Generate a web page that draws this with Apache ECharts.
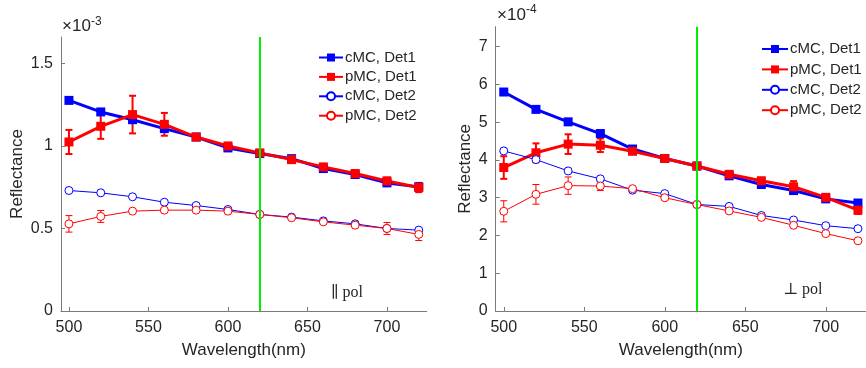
<!DOCTYPE html>
<html>
<head>
<meta charset="utf-8">
<script src="https://cdn.jsdelivr.net/npm/echarts@6/dist/echarts.min.js"></script>
<style>
html,body{margin:0;padding:0;background:#fff;}
#chart{width:866px;height:368px;}
</style>
</head>
<body>
<div id="chart"></div>
<script>
// ---------- DATA ----------
const wavelengths = [500, 520, 540, 560, 580, 600, 620, 640, 660, 680, 700, 720];
const seriesNames = ['cMC, Det1', 'pMC, Det1', 'cMC, Det2', 'pMC, Det2'];
const cutoffWavelength = 620;
const xTicks = [500, 550, 600, 650, 700];

// Left panel (parallel pol), units of 1e-3
const parYTicks = [0, 0.5, 1, 1.5];
const par_cMC_Det1 = [1.276, 1.206, 1.159, 1.105, 1.054, 0.988, 0.954, 0.923, 0.863, 0.827, 0.776, 0.752];
const par_pMC_Det1 = [1.024, 1.119, 1.190, 1.131, 1.054, 1.000, 0.958, 0.917, 0.873, 0.833, 0.788, 0.748];
const par_pMC_Det1_err = [0.073, 0.076, 0.114, 0.069, 0.012, 0.010, 0.008, 0.010, 0.010, 0.010, 0.020, 0.028];
const par_cMC_Det2 = [0.730, 0.716, 0.692, 0.659, 0.639, 0.615, 0.585, 0.569, 0.546, 0.528, 0.500, 0.490];
const par_pMC_Det2 = [0.528, 0.573, 0.605, 0.611, 0.611, 0.605, 0.585, 0.565, 0.540, 0.520, 0.500, 0.464];
const par_pMC_Det2_err = [0.050, 0.036, 0.015, 0.010, 0.008, 0.008, 0.006, 0.008, 0.008, 0.008, 0.036, 0.037];

// Right panel (perpendicular pol), units of 1e-4
const perYTicks = [0, 1, 2, 3, 4, 5, 6, 7];
const per_cMC_Det1 = [5.80, 5.34, 5.01, 4.70, 4.29, 4.04, 3.84, 3.58, 3.35, 3.19, 2.97, 2.86];
const per_pMC_Det1 = [3.80, 4.19, 4.42, 4.39, 4.23, 4.04, 3.84, 3.62, 3.45, 3.29, 3.01, 2.67];
const per_pMC_Det1_err = [0.30, 0.25, 0.26, 0.18, 0.07, 0.05, 0.05, 0.05, 0.07, 0.15, 0.08, 0.10];
const per_cMC_Det2 = [4.24, 4.01, 3.71, 3.50, 3.20, 3.11, 2.82, 2.77, 2.53, 2.41, 2.26, 2.18];
const per_pMC_Det2 = [2.64, 3.09, 3.32, 3.31, 3.24, 3.00, 2.82, 2.65, 2.48, 2.27, 2.05, 1.86];
const per_pMC_Det2_err = [0.28, 0.26, 0.23, 0.12, 0.05, 0.04, 0.04, 0.04, 0.04, 0.04, 0.04, 0.04];

// ---------- CHART ----------
const BLUE = '#0000ff', RED = '#ff0000', GREEN = '#00ee00';
const AXIS = '#7a7a7a', TXT = '#262626';
const FONT = '"Liberation Sans", Arial, Helvetica, sans-serif';

function pairs(vals) { return wavelengths.map((w, i) => [w, vals[i]]); }
function errPairs(vals, errs) { return wavelengths.map((w, i) => [w, vals[i] - errs[i], vals[i] + errs[i]]); }

function errRender(lw, cap) {
  return function (params, api) {
    const x = api.value(0), lo = api.value(1), hi = api.value(2);
    const p1 = api.coord([x, lo]), p2 = api.coord([x, hi]);
    const st = { stroke: RED, lineWidth: lw };
    return {
      type: 'group', children: [
        { type: 'line', shape: { x1: p1[0], y1: p1[1], x2: p2[0], y2: p2[1] }, style: st },
        { type: 'line', shape: { x1: p1[0] - cap, y1: p1[1], x2: p1[0] + cap, y2: p1[1] }, style: st },
        { type: 'line', shape: { x1: p2[0] - cap, y1: p2[1], x2: p2[0] + cap, y2: p2[1] }, style: st }
      ]
    };
  };
}

function panelSeries(idx, c1, p1, p1e, c2, p2, p2e) {
  const base = { type: 'line', xAxisIndex: idx, yAxisIndex: idx, animation: false };
  return [
    Object.assign({}, base, {
      name: seriesNames[0], data: pairs(c1), symbol: 'rect', symbolSize: 9,
      lineStyle: { color: BLUE, width: 3 }, itemStyle: { color: BLUE }
    }),
    Object.assign({}, base, {
      name: seriesNames[1], data: pairs(p1), symbol: 'rect', symbolSize: 9,
      lineStyle: { color: RED, width: 3 }, itemStyle: { color: RED }
    }),
    {
      type: 'custom', xAxisIndex: idx, yAxisIndex: idx, animation: false, silent: true,
      renderItem: errRender(2, 3.5), data: errPairs(p1, p1e), encode: { x: 0, y: [1, 2] }
    },
    Object.assign({}, base, {
      name: seriesNames[2], data: pairs(c2), symbol: 'circle', symbolSize: 8,
      lineStyle: { color: BLUE, width: 1 }, itemStyle: { color: '#fff', borderColor: BLUE, borderWidth: 1 }
    }),
    Object.assign({}, base, {
      name: seriesNames[3], data: pairs(p2), symbol: 'circle', symbolSize: 8,
      lineStyle: { color: RED, width: 1 }, itemStyle: { color: '#fff', borderColor: RED, borderWidth: 1 }
    }),
    {
      type: 'custom', xAxisIndex: idx, yAxisIndex: idx, animation: false, silent: true,
      renderItem: errRender(1, 3.5), data: errPairs(p2, p2e), encode: { x: 0, y: [1, 2] }
    },
    Object.assign({}, base, {
      name: 'cutoff', data: [], symbol: 'none', z: 5,
      markLine: {
        silent: true, symbol: 'none', animation: false,
        label: { show: false },
        lineStyle: { color: GREEN, width: 2, type: 'solid' },
        data: [{ xAxis: cutoffWavelength }]
      }
    })
  ];
}

function xAxisCfg(idx) {
  return {
    type: 'value', gridIndex: idx, min: 495, max: 725,
    name: 'Wavelength(nm)', nameLocation: 'middle', nameGap: 31,
    nameTextStyle: { color: TXT, fontSize: 17, fontFamily: FONT },
    axisLine: { lineStyle: { color: AXIS, width: 1 } },
    axisTick: { inside: true, length: 4, lineStyle: { color: AXIS }, customValues: xTicks },
    axisLabel: { color: TXT, fontSize: 16, fontFamily: FONT, margin: 9, customValues: xTicks },
    splitLine: { show: false }
  };
}
function yAxisCfg(idx, max, ticks, gap) {
  return {
    type: 'value', gridIndex: idx, min: 0, max: max,
    name: 'Reflectance', nameLocation: 'middle', nameGap: gap,
    nameTextStyle: { color: TXT, fontSize: 17, fontFamily: FONT },
    axisLine: { show: true, lineStyle: { color: AXIS, width: 1 } },
    axisTick: { show: true, inside: true, length: 4, lineStyle: { color: AXIS }, customValues: ticks },
    axisLabel: { color: TXT, fontSize: 16, fontFamily: FONT, margin: 8, customValues: ticks },
    splitLine: { show: false }
  };
}

function legendCfg(left, top, gap, iw) {
  return {
    orient: 'vertical', left: left, top: top, itemWidth: iw, itemHeight: 10, itemGap: gap,
    padding: 0,
    data: seriesNames, selectedMode: false,
    textStyle: { color: TXT, fontSize: 15, lineHeight: 14, fontFamily: FONT, padding: [0, 0, 0, -3] }
  };
}

const option = {
  backgroundColor: '#fff',
  animation: false,
  grid: [
    { left: 61, top: 37, width: 365.7, height: 274 },
    { left: 495.7, top: 26.7, width: 377.3, height: 284.3 }
  ],
  xAxis: [xAxisCfg(0), xAxisCfg(1)],
  yAxis: [yAxisCfg(0, 1.66, parYTicks, 35), yAxisCfg(1, 7.53, perYTicks, 22)],
  legend: [legendCfg(318, 50, 4.4, 24), legendCfg(761, 41.5, 5.4, 26)],
  series: [].concat(
    panelSeries(0, par_cMC_Det1, par_pMC_Det1, par_pMC_Det1_err, par_cMC_Det2, par_pMC_Det2, par_pMC_Det2_err),
    panelSeries(1, per_cMC_Det1, per_pMC_Det1, per_pMC_Det1_err, per_cMC_Det2, per_pMC_Det2, per_pMC_Det2_err)
  ),
  graphic: [
    { type: 'text', x: 62, y: 35, style: { text: '×10', font: '17px ' + FONT, fill: TXT, textVerticalAlign: 'bottom' } },
    { type: 'text', x: 91, y: 28, style: { text: '-3', font: '12px ' + FONT, fill: TXT, textVerticalAlign: 'bottom' } },
    { type: 'text', x: 497, y: 24, style: { text: '×10', font: '17px ' + FONT, fill: TXT, textVerticalAlign: 'bottom' } },
    { type: 'text', x: 526, y: 16, style: { text: '-4', font: '12px ' + FONT, fill: TXT, textVerticalAlign: 'bottom' } },
    { type: 'text', x: 331, y: 301, style: { text: '\u2225 pol', font: '16px "Liberation Serif", "DejaVu Serif", serif', fill: TXT, textVerticalAlign: 'bottom' } },
    { type: 'text', x: 783, y: 298, style: { text: '\u22A5 pol', font: '16px "Liberation Serif", "DejaVu Serif", serif', fill: TXT, textVerticalAlign: 'bottom' } }
  ]
};

const chart = echarts.init(document.getElementById('chart'), null, { renderer: 'canvas' });
chart.setOption(option);
</script>
</body>
</html>
